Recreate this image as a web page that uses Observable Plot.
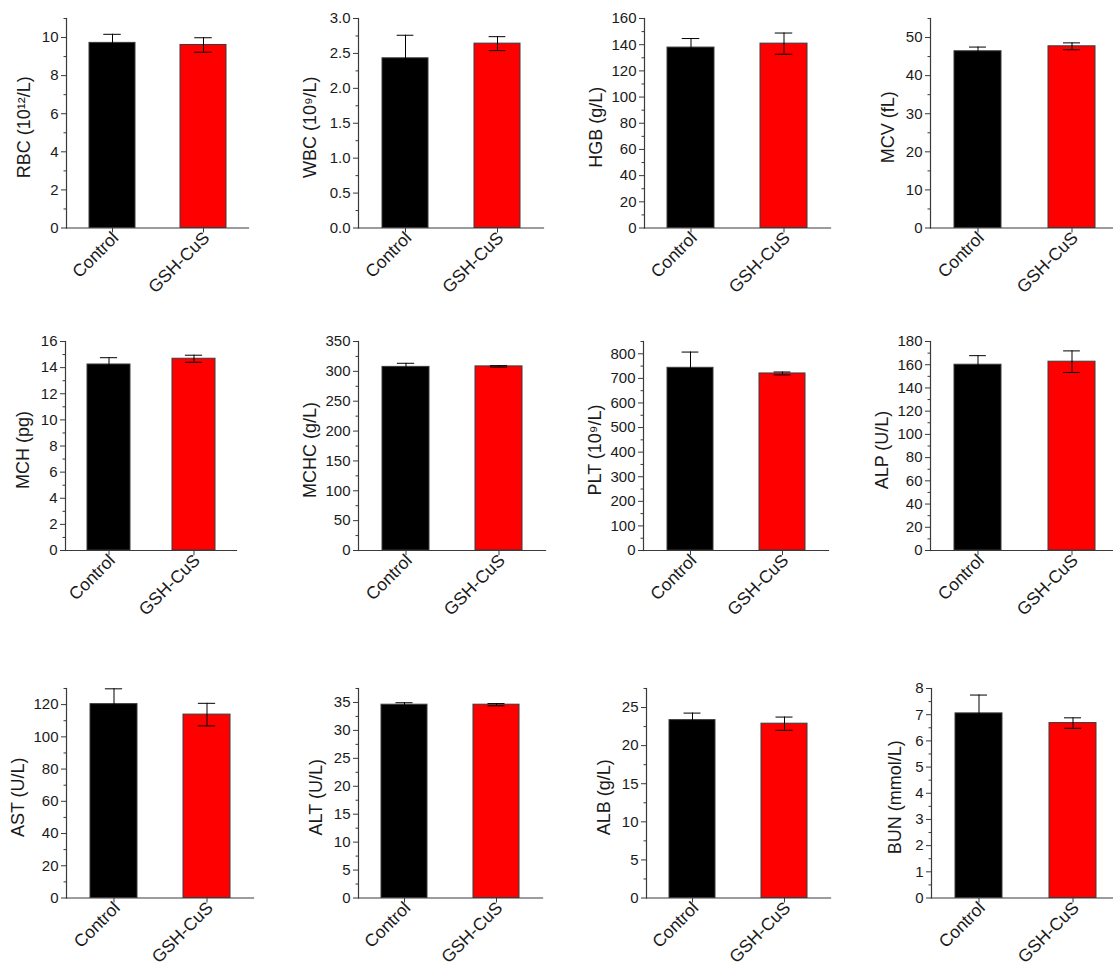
<!DOCTYPE html>
<html><head><meta charset="utf-8">
<script src="https://cdn.jsdelivr.net/npm/d3@7"></script>
<script src="https://cdn.jsdelivr.net/npm/@observablehq/plot@0.6"></script>
<style>
body{margin:0;background:#fff;}
#wrap{position:relative;width:1113px;height:967px;overflow:hidden;background:#fff;font-family:"Liberation Sans",Arial,sans-serif;}
.panel{position:absolute;}
.panel svg{overflow:visible;max-width:none !important;}
</style></head><body><div id="wrap"></div>
<script>
// ---- data ----
const groups = ["Control", "GSH-CuS"];
const metrics = ["RBC","WBC","HGB","MCV","MCH","MCHC","PLT","ALP","AST","ALT","ALB","BUN"];
const yTitles = ["RBC (10¹²/L)","WBC (10⁹/L)","HGB (g/L)","MCV (fL)","MCH (pg)","MCHC (g/L)","PLT (10⁹/L)","ALP (U/L)","AST (U/L)","ALT (U/L)","ALB (g/L)","BUN (mmol/L)"];
const controlMean = [9.72, 2.43, 137.8, 46.4, 14.24, 307.5, 743, 160.0, 120.3, 34.6, 23.35, 7.05];
const controlErr  = [0.45, 0.33, 6.9, 1.1, 0.52, 6.0, 64, 7.8, 9.5, 0.35, 0.92, 0.70];
const cusMean     = [9.61, 2.64, 140.8, 47.7, 14.68, 308.3, 720, 162.6, 113.8, 34.6, 22.88, 6.68];
const cusErr      = [0.38, 0.10, 8.1, 0.9, 0.27, 1.2, 6, 9.3, 7.0, 0.2, 0.87, 0.20];
const yMax     = [11, 3, 160, 55, 16, 350, 850, 180, 130, 37.5, 27.5, 8];
const tickStep = [2, 0.5, 20, 10, 2, 50, 100, 20, 20, 5, 5, 1];
const barColors = ["#000000", "#ff0000"];

// ---- layout (pixels) ----
const axisLeft  = [66, 358, 644, 930, 65, 358, 643, 930, 66, 358, 646, 931];
const axisWidth = [182, 185, 186, 188, 171, 187, 185, 189, 187, 184, 184, 188];
const rowTop  = [18, 341, 688];
const rowZero = [227.5, 550, 897.5];
const ML = 70, MR = 4, MT = 10;
const FONT = "'Liberation Sans', Arial, sans-serif";

const wrap = document.getElementById("wrap");

metrics.forEach((m, i) => {
  const row = Math.floor(i / 4);
  const H = rowZero[row] - rowTop[row];
  const W = axisWidth[i];
  const MB = row === 2 ? 967 - rowZero[row] : 95;
  const data = groups.map((g, j) => ({
    group: g,
    mean: j === 0 ? controlMean[i] : cusMean[i],
    err: j === 0 ? controlErr[i] : cusErr[i]
  }));
  const step = tickStep[i];
  const major = d3.range(0, yMax[i] + 1e-9, step);
  const minor = d3.range(step / 2, yMax[i] + 1e-9, step);
  const fmt = step < 1 ? d3.format(".1f") : d3.format("d");
  const maxChars = d3.max(major, v => fmt(v).length);
  const labelCenter = 30 + 6 * maxChars;
  const bandPx = W / 2 * 0.5;
  const capInset = (bandPx - 17) / 2;

  const chart = Plot.plot({
    width: ML + W + MR,
    height: MT + H + MB,
    marginLeft: ML, marginRight: MR, marginTop: MT, marginBottom: MB,
    style: {fontFamily: FONT, background: "transparent", overflow: "visible", maxWidth: "none"},
    x: {type: "band", domain: groups, paddingInner: 0.5, paddingOuter: 0.25, axis: null},
    y: {domain: [0, yMax[i]], axis: null},
    color: {domain: groups, range: barColors},
    marks: [
      Plot.barY(data, {x: "group", y: "mean", fill: "group", stroke: "#3a3a3a", strokeWidth: 1}),
      Plot.ruleX(data, {x: "group", y1: d => d.mean - d.err, y2: d => d.mean + d.err, stroke: "#000", strokeWidth: 1}),
      Plot.tickY(data, {x: "group", y: d => d.mean + d.err, insetLeft: capInset, insetRight: capInset, stroke: "#000", strokeWidth: 1}),
      Plot.tickY(data, {x: "group", y: d => d.mean - d.err, insetLeft: capInset, insetRight: capInset, stroke: "#000", strokeWidth: 1}),
      Plot.axisY({ticks: major, tickSize: 5, tickPadding: 3, tickFormat: fmt, fontSize: 15,
        color: "#1a1a1a", stroke: "#3a3a3a", label: null}),
      Plot.axisY({ticks: minor, tickSize: 2.5, tickFormat: () => "", label: null, stroke: "#3a3a3a"}),
      Plot.axisX({tickSize: 5, text: null, label: null, stroke: "#3a3a3a"}),
      Plot.axisX({tickSize: 0, tickPadding: 4, tickRotate: -45, fontSize: 17.5, label: null,
        dx: 3, dy: 3, color: "#1a1a1a"}),
      Plot.text([yTitles[i]], {text: d => d, frameAnchor: "left", rotate: -90, dx: -labelCenter, dy: 4,
        fontSize: 18, fill: "#1a1a1a", textAnchor: "middle"}),
      Plot.frame({anchor: "left", stroke: "#3a3a3a", strokeWidth: 1.2}),
      Plot.frame({anchor: "bottom", stroke: "#3a3a3a", strokeWidth: 1.2})
    ]
  });
  const div = document.createElement("div");
  div.className = "panel";
  div.style.left = (axisLeft[i] - ML) + "px";
  div.style.top = (rowTop[row] - MT) + "px";
  div.style.width = (ML + W + MR) + "px";
  div.appendChild(chart);
  wrap.appendChild(div);
});
</script>
</body></html>
